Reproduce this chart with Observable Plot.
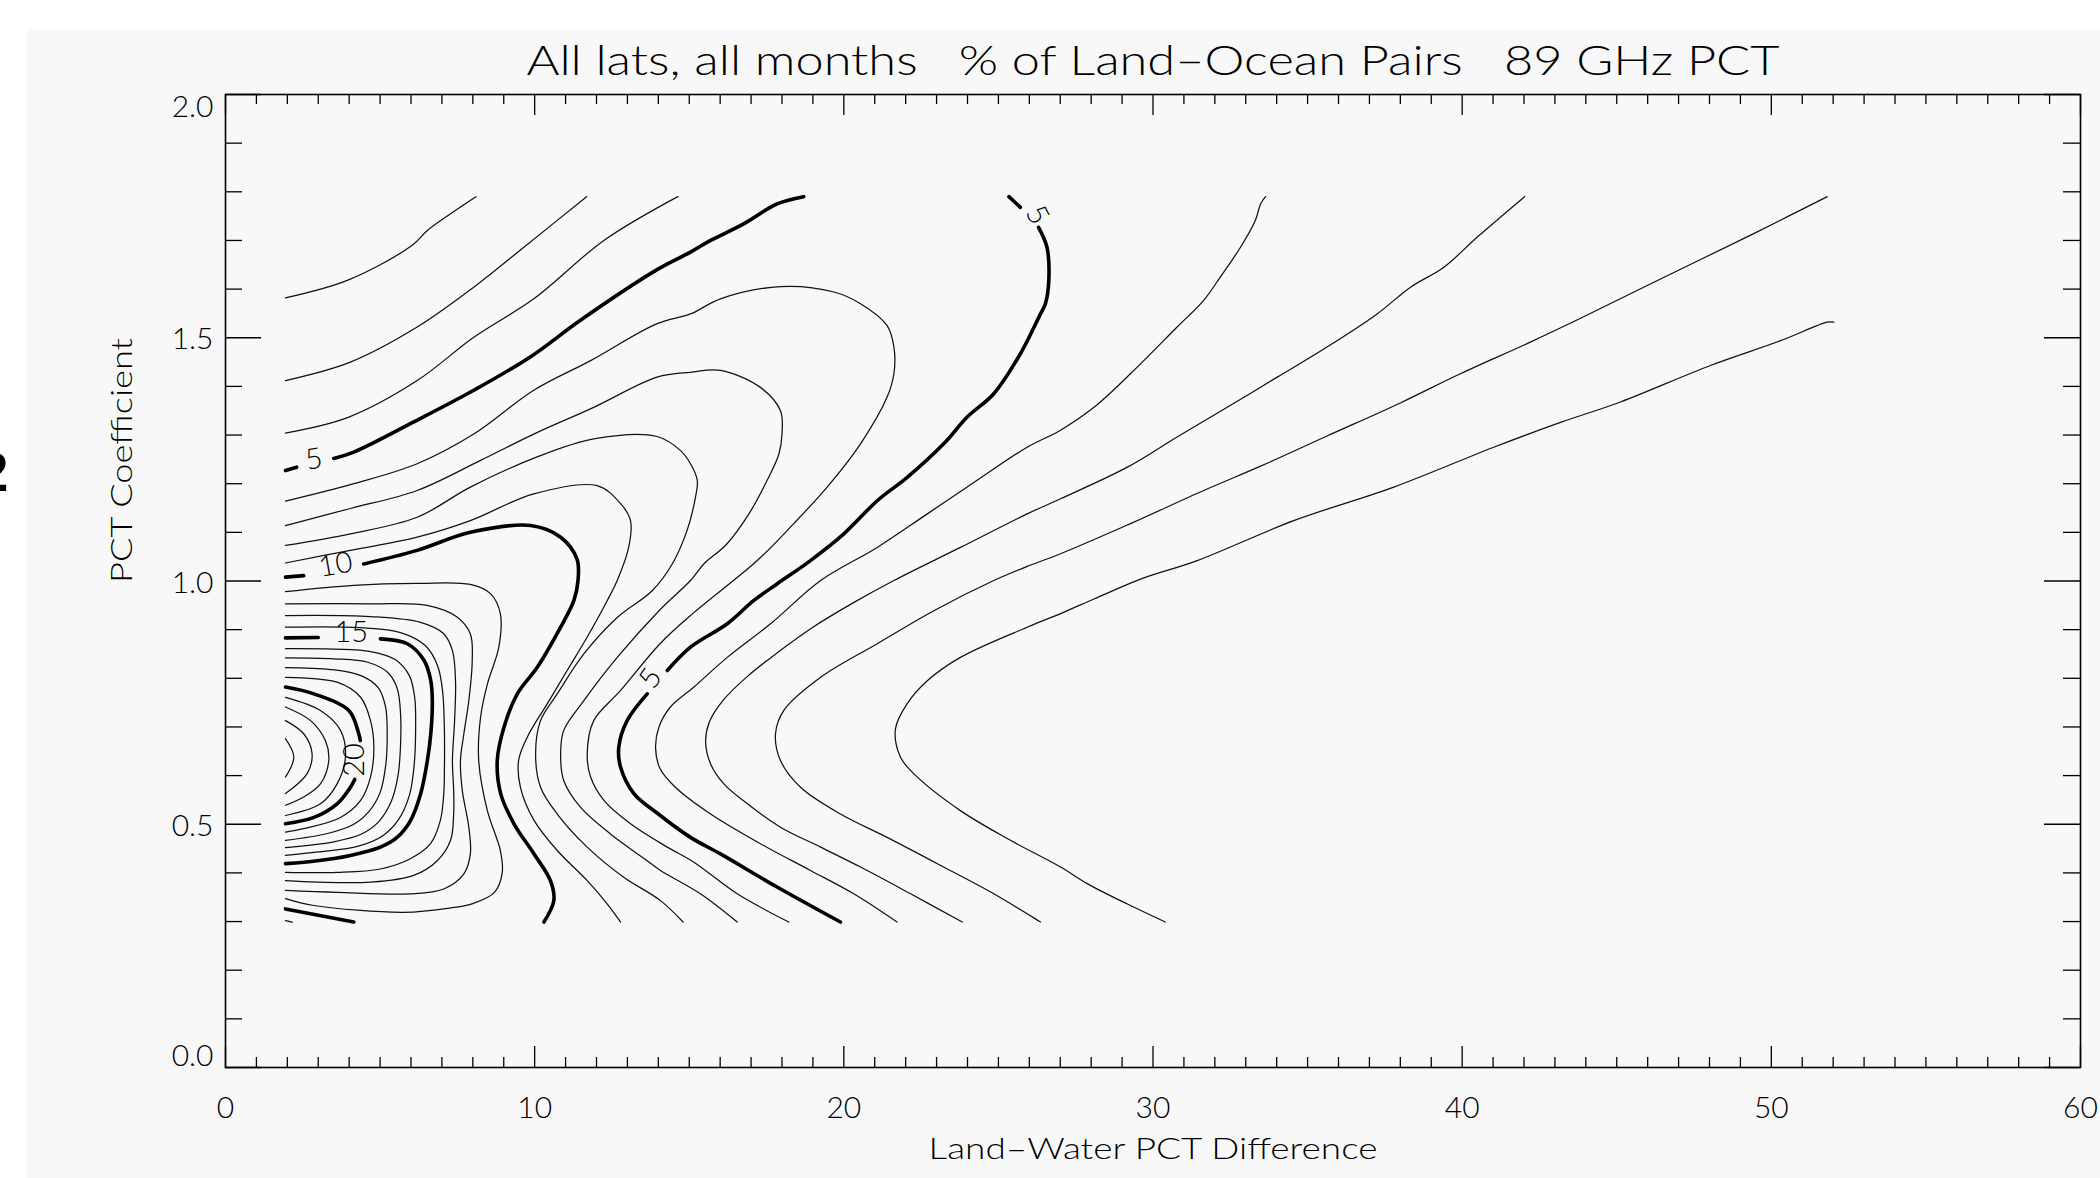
<!DOCTYPE html>
<html>
<head>
<meta charset="utf-8">
<script src="https://cdn.jsdelivr.net/npm/d3@7"></script>
<script src="https://cdn.jsdelivr.net/npm/@observablehq/plot@0.6"></script>
<style>
  html, body { margin: 0; padding: 0; background: #ffffff; }
  #chart svg { display: block; }
</style>
</head>
<body>
<div id="chart"></div>
<script>
// ---- Axis ticks ----
const xTickLabels = [0, 10, 20, 30, 40, 50, 60];
const yTickLabels = [0.0, 0.5, 1.0, 1.5, 2.0];

// ---- Contour paths, [PCT difference, PCT coefficient], level in % ----
// upper-left family (open along the left data edge)
const lvl2Upper = [[1.94,1.582],[3.98,1.619],[6.04,1.690],[6.52,1.720],[7.28,1.755],[8.10,1.790]];
const lvl3Upper = [[1.94,1.412],[4.04,1.450],[6.20,1.522],[8.03,1.604],[9.65,1.686],[11.68,1.790]];
const lvl4Upper = [[1.94,1.304],[3.99,1.337],[6.20,1.412],[8.03,1.501],[9.97,1.580],[12.24,1.700],[14.63,1.790]];
const lvl5UpperA = [[1.94,1.227],[2.30,1.234]];
const lvl5UpperB = [[3.50,1.252],[4.15,1.265],[6.09,1.327],[8.03,1.392],[9.87,1.461],[11.48,1.536],[13.96,1.640],[15.04,1.676],[15.69,1.700],[16.76,1.734],[17.84,1.775],[18.70,1.790]];

// nested lobes between the two 5% contours
const lvl6 = [[1.94,1.164],[4.15,1.200],[6.20,1.241],[8.03,1.302],[9.97,1.392],[11.81,1.453],[13.96,1.529],[15.04,1.549],[16.01,1.580],[17.95,1.605],[19.68,1.594],[20.54,1.570],[21.40,1.525],[21.62,1.481],[21.62,1.426],[21.40,1.378],[20.54,1.282],[19.46,1.193],[18.38,1.118],[17.20,1.042],[15.15,0.935],[14.07,0.872],[12.78,0.775],[11.91,0.713],[11.70,0.645],[11.81,0.597],[12.24,0.549],[13.10,0.501],[14.29,0.453],[15.15,0.422],[16.55,0.357],[18.22,0.299]];
const lvl7 = [[1.94,1.114],[4.04,1.149],[6.20,1.186],[8.25,1.248],[9.97,1.302],[11.91,1.357],[13.96,1.419],[15.04,1.429],[16.01,1.433],[17.30,1.398],[17.95,1.350],[18.00,1.302],[17.90,1.261],[17.52,1.207],[16.93,1.138],[16.20,1.075],[15.47,1.035],[15.04,1.001],[14.07,0.942],[12.67,0.843],[11.59,0.754],[10.94,0.693],[10.84,0.645],[10.94,0.590],[11.48,0.535],[12.45,0.480],[13.64,0.425],[14.07,0.405],[15.36,0.357],[16.55,0.299]];
const lvl8 = [[1.94,1.073],[4.04,1.097],[6.20,1.131],[7.92,1.193],[10.08,1.255],[11.91,1.292],[13.96,1.297],[14.72,1.268],[15.04,1.241],[15.26,1.207],[15.20,1.172],[14.93,1.104],[14.45,1.035],[13.80,0.980],[12.67,0.925],[11.59,0.850],[10.73,0.768],[10.19,0.713],[10.03,0.645],[10.19,0.576],[10.73,0.521],[11.70,0.453],[12.88,0.391],[14.07,0.343],[14.80,0.299]];
const lvl9 = [[1.94,1.037],[4.04,1.063],[6.20,1.090],[7.92,1.124],[9.97,1.179],[12.02,1.196],[12.78,1.159],[13.10,1.124],[13.04,1.069],[12.67,1.001],[12.35,0.960],[11.70,0.885],[11.05,0.816],[10.41,0.748],[9.76,0.679],[9.48,0.631],[9.54,0.576],[9.98,0.508],[10.73,0.446],[11.70,0.384],[12.35,0.336],[12.78,0.299]];
const lvl9Corner = [[1.94,0.302],[2.16,0.299]];
const lvl10A = [[1.94,1.008],[2.53,1.011]];
const lvl10B = [[4.47,1.035],[6.20,1.063],[7.92,1.100],[9.87,1.114],[10.84,1.090],[11.37,1.045],[11.40,1.000],[11.27,0.960],[10.84,0.905],[10.09,0.823],[9.44,0.768],[9.01,0.700],[8.79,0.631],[8.90,0.563],[9.33,0.501],[9.98,0.439],[10.51,0.384],[10.62,0.343],[10.30,0.299]];
const lvl10Corner = [[1.94,0.326],[4.15,0.299]];
const lvl11 = [[1.94,0.978],[4.15,0.991],[6.20,0.995],[7.92,0.993],[8.57,0.974],[8.89,0.933],[8.84,0.864],[8.47,0.788],[8.25,0.720],[8.19,0.631],[8.47,0.528],[8.89,0.446],[8.95,0.400],[8.70,0.360],[8.00,0.337],[7.28,0.328],[5.77,0.319],[2.86,0.333],[1.94,0.347]];
const lvl12 = [[1.94,0.953],[4.69,0.953],[6.52,0.950],[7.49,0.926],[7.92,0.891],[7.98,0.836],[7.87,0.754],[7.71,0.686],[7.60,0.631],[7.66,0.569],[7.87,0.494],[7.92,0.439],[7.71,0.398],[7.06,0.367],[5.98,0.357],[3.61,0.360],[1.94,0.364]];
const lvl13 = [[1.94,0.929],[4.69,0.927],[6.31,0.915],[7.05,0.892],[7.34,0.857],[7.44,0.795],[7.41,0.713],[7.34,0.631],[7.38,0.569],[7.38,0.521],[7.28,0.467],[6.85,0.425],[6.09,0.395],[4.69,0.381],[2.97,0.381],[1.94,0.384]];
const lvl14 = [[1.94,0.905],[4.37,0.904],[5.66,0.894],[6.47,0.867],[6.86,0.826],[7.02,0.775],[7.08,0.693],[7.08,0.610],[7.06,0.563],[6.95,0.508],[6.63,0.460],[5.98,0.429],[5.01,0.408],[3.61,0.401],[1.94,0.401]];
const lvl15A = [[1.94,0.883],[3.00,0.884]];
const lvl15B = [[5.01,0.881],[5.88,0.871],[6.42,0.837],[6.64,0.795],[6.69,0.754],[6.64,0.686],[6.53,0.631],[6.31,0.562],[5.98,0.507],[5.55,0.473],[5.01,0.453],[4.04,0.436],[2.97,0.425],[1.94,0.419]];
const lvl16 = [[1.94,0.861],[3.50,0.860],[4.70,0.855],[5.50,0.838],[5.95,0.805],[6.12,0.760],[6.15,0.700],[6.10,0.620],[5.95,0.560],[5.60,0.510],[5.10,0.477],[4.30,0.455],[3.00,0.443],[1.94,0.436]];
const lvl17 = [[1.94,0.842],[3.50,0.840],[4.60,0.833],[5.25,0.812],[5.55,0.780],[5.66,0.730],[5.66,0.660],[5.58,0.600],[5.35,0.545],[4.95,0.505],[4.40,0.480],[3.50,0.464],[1.94,0.452]];
const lvl18 = [[1.94,0.822],[3.40,0.818],[4.40,0.805],[4.95,0.780],[5.18,0.740],[5.23,0.680],[5.18,0.620],[5.00,0.565],[4.65,0.527],[4.15,0.500],[3.30,0.481],[1.94,0.467]];
const lvl19 = [[1.94,0.802],[3.61,0.792],[4.37,0.761],[4.69,0.713],[4.80,0.658],[4.69,0.597],[4.37,0.549],[3.72,0.514],[2.53,0.491],[1.94,0.484]];
const lvl20A = [[1.94,0.782],[2.86,0.768],[3.99,0.734],[4.31,0.686],[4.36,0.672]];
const lvl20B = [[4.18,0.592],[4.04,0.576],[3.61,0.542],[2.86,0.514],[1.94,0.501]];
const lvl21 = [[1.94,0.761],[3.07,0.734],[3.72,0.693],[3.88,0.638],[3.61,0.583],[3.07,0.542],[1.94,0.518]];
const lvl22 = [[1.94,0.741],[2.75,0.713],[3.23,0.672],[3.34,0.631],[3.07,0.583],[2.53,0.556],[1.94,0.539]];
const lvl23 = [[1.94,0.713],[2.53,0.686],[2.80,0.645],[2.64,0.604],[1.94,0.563]];
const lvl24 = [[1.94,0.676],[2.21,0.638],[1.94,0.597]];

// right-hand family (opening toward large differences)
const lvl5RightA = [[25.34,1.790],[25.71,1.768]];
const lvl5RightB = [[26.30,1.727],[26.57,1.686],[26.63,1.618],[26.52,1.570],[26.36,1.549],[25.71,1.467],[24.85,1.385],[23.99,1.337],[23.23,1.282],[22.05,1.213],[21.08,1.165],[20.00,1.097],[18.92,1.042],[17.84,0.994],[17.09,0.960],[16.23,0.912],[15.04,0.864],[14.29,0.816]];
const lvl5RightC = [[13.64,0.768],[12.99,0.713],[12.72,0.658],[12.78,0.617],[13.21,0.563],[14.00,0.521],[15.04,0.473],[16.01,0.439],[17.84,0.371],[19.89,0.299]];
const lvl4Right = [[33.64,1.790],[33.48,1.775],[33.31,1.741],[32.83,1.686],[32.18,1.625],[31.64,1.577],[30.78,1.522],[29.27,1.426],[28.09,1.357],[27.01,1.310],[25.93,1.275],[24.31,1.207],[22.70,1.138],[21.08,1.069],[19.25,1.001],[17.63,0.912],[16.23,0.843],[15.15,0.782],[14.39,0.741],[14.02,0.700],[13.91,0.658],[14.05,0.615],[14.55,0.576],[15.69,0.521],[17.30,0.460],[18.92,0.405],[20.32,0.357],[21.72,0.299]];
const lvl3Right = [[42.02,1.790],[40.49,1.707],[39.41,1.645],[38.33,1.604],[37.25,1.549],[35.63,1.481],[34.02,1.419],[32.40,1.357],[30.78,1.296],[29.17,1.234],[27.01,1.169],[25.93,1.138],[23.77,1.069],[21.62,1.001],[20.30,0.955],[19.00,0.905],[17.90,0.855],[16.90,0.805],[16.10,0.755],[15.65,0.710],[15.53,0.669],[15.69,0.624],[16.12,0.583],[16.88,0.542],[17.95,0.494],[19.25,0.453],[20.54,0.412],[22.16,0.357],[23.83,0.299]];
const lvl2Right = [[51.81,1.790],[50.62,1.752],[49.43,1.714],[46.20,1.614],[43.83,1.540],[42.10,1.488],[39.94,1.426],[38.00,1.366],[35.63,1.298],[33.48,1.236],[31.64,1.186],[29.17,1.115],[27.01,1.056],[25.93,1.030],[24.85,1.001],[22.91,0.939],[21.08,0.871],[19.25,0.802],[18.06,0.734],[17.79,0.686],[17.95,0.631],[18.60,0.576],[19.89,0.521],[21.40,0.473],[23.23,0.412],[24.85,0.357],[26.36,0.299]];
const lvl1Right = [[52.02,1.532],[51.81,1.532],[50.30,1.494],[48.03,1.443],[45.12,1.368],[43.18,1.326],[41.02,1.275],[37.79,1.193],[34.55,1.124],[31.43,1.042],[29.60,1.004],[28.09,0.963],[27.01,0.933],[25.93,0.905],[23.77,0.843],[22.70,0.795],[22.05,0.748],[21.67,0.696],[21.83,0.638],[22.26,0.604],[23.77,0.528],[25.39,0.467],[27.01,0.412],[27.87,0.378],[29.17,0.336],[30.40,0.299]];

// ---- In-line contour labels ----
const labelText  = ["5", "10", "15", "20", "5", "5"];
const labelX     = [2.86, 3.56, 4.07, 4.17, 13.75, 26.25];
const labelY     = [1.250, 1.033, 0.893, 0.632, 0.800, 1.752];
const labelAngle = [-10, -10, 0, -90, -55, 62];

// ---- Assemble the path table ----
const paths = [
  [2, lvl2Upper], [3, lvl3Upper], [4, lvl4Upper], [5, lvl5UpperA], [5, lvl5UpperB],
  [6, lvl6], [7, lvl7], [8, lvl8], [9, lvl9], [9, lvl9Corner],
  [10, lvl10A], [10, lvl10B], [10, lvl10Corner],
  [11, lvl11], [12, lvl12], [13, lvl13], [14, lvl14], [15, lvl15A], [15, lvl15B],
  [16, lvl16], [17, lvl17], [18, lvl18], [19, lvl19], [20, lvl20A], [20, lvl20B],
  [21, lvl21], [22, lvl22], [23, lvl23], [24, lvl24],
  [5, lvl5RightA], [5, lvl5RightB], [5, lvl5RightC],
  [4, lvl4Right], [3, lvl3Right], [2, lvl2Right], [1, lvl1Right]
];
const rows = paths.flatMap(([level, pts], id) => pts.map(([x, y]) => ({x, y, level, id})));
const thinRows = rows.filter(d => d.level % 5 !== 0);
const thickRows = rows.filter(d => d.level % 5 === 0);
const labels = labelText.map((t, i) => ({t, x: labelX[i], y: labelY[i], a: labelAngle[i]}));

// ---- Layout ----
const W = 2100, H = 1178;
const mT = 94, mR = 20, mB = 111, mL = 225;
const plotW = W - mL - mR, plotH = H - mT - mB;
const font = "Lato, 'Liberation Sans', sans-serif";
const txt = {fontWeight: 300, fill: "#000", lineAnchor: "middle"};

const xMinor = d3.range(0, 61).filter(v => v % 10 !== 0);
const yMinor = d3.range(1, 20).filter(v => v % 5 !== 0).map(v => v / 10);
const yMid = yTickLabels.filter(v => v > 0 && v < 2);

const chart = Plot.plot({
  width: W, height: H,
  marginTop: mT, marginRight: mR, marginBottom: mB, marginLeft: mL,
  x: {domain: [0, 60], axis: null},
  y: {domain: [0, 2], axis: null},
  style: {background: "#ffffff", fontFamily: font},
  marks: [
    // grey panel behind the whole figure
    Plot.frame({fill: "#f8f8f8", stroke: null, insetLeft: -199, insetTop: -65, insetRight: -mR, insetBottom: -mB}),
    // contours
    Plot.line(thinRows, {x: "x", y: "y", z: "id", stroke: "#111", strokeWidth: 1.25, curve: "catmull-rom"}),
    Plot.line(thickRows, {x: "x", y: "y", z: "id", stroke: "#000", strokeWidth: 3.6, curve: "catmull-rom"}),
    Plot.text(labels, {x: "x", y: "y", text: "t", rotate: "a", fontSize: 29, ...txt}),
    // inward ticks on all four sides
    Plot.ruleX(xMinor, {x: d => d, insetTop: plotH - 10, stroke: "#000", strokeWidth: 1.3}),
    Plot.ruleX(xMinor, {x: d => d, insetBottom: plotH - 10, stroke: "#000", strokeWidth: 1.3}),
    Plot.ruleX(xTickLabels, {x: d => d, insetTop: plotH - 21, stroke: "#000", strokeWidth: 1.3}),
    Plot.ruleX(xTickLabels, {x: d => d, insetBottom: plotH - 21, stroke: "#000", strokeWidth: 1.3}),
    Plot.ruleY(yMinor, {y: d => d, insetRight: plotW - 17, stroke: "#000", strokeWidth: 1.3}),
    Plot.ruleY(yMinor, {y: d => d, insetLeft: plotW - 17, stroke: "#000", strokeWidth: 1.3}),
    Plot.ruleY(yTickLabels, {y: d => d, insetRight: plotW - 36, stroke: "#000", strokeWidth: 1.3}),
    Plot.ruleY(yTickLabels, {y: d => d, insetLeft: plotW - 36, stroke: "#000", strokeWidth: 1.3}),
    Plot.frame({stroke: "#000", strokeWidth: 1.6}),
    // tick labels
    Plot.text(xTickLabels, {x: d => d, frameAnchor: "bottom", dy: 41, text: d => String(d), fontSize: 30, ...txt}),
    Plot.text(yMid, {y: d => d, frameAnchor: "left", dx: -12, dy: 2, textAnchor: "end", text: d => d.toFixed(1), fontSize: 30, ...txt}),
    Plot.text(yTickLabels.filter(v => v === 2), {y: d => d, frameAnchor: "left", dx: -12, dy: 13, textAnchor: "end", text: d => d.toFixed(1), fontSize: 30, ...txt}),
    Plot.text(yTickLabels.filter(v => v === 0), {y: d => d, frameAnchor: "left", dx: -12, dy: -11, textAnchor: "end", text: d => d.toFixed(1), fontSize: 30, ...txt}),
    // axis titles and heading
    Plot.text(["Land\u2013Water PCT Difference"], {frameAnchor: "bottom", dy: 82, text: d => d, fontSize: 30, ...txt}),
    Plot.text(["PCT Coefficient"], {frameAnchor: "left", dx: -103, dy: 2, rotate: -90, text: d => d, fontSize: 30, ...txt}),
    Plot.text(["All lats, all months\u00a0\u00a0\u00a0% of Land\u2013Ocean Pairs\u00a0\u00a0\u00a089 GHz PCT"], {frameAnchor: "top", dy: -33, text: d => d, fontSize: 41, ...txt}),
    // panel number partly cut off at the left edge
    Plot.text(["2"], {frameAnchor: "left", dx: 8 - mL, dy: -108, textAnchor: "end", text: d => d, fontSize: 56, fontWeight: 900, fontFamily: "'Liberation Sans', sans-serif", fill: "#000"})
  ]
});

// fit the long texts to their measured extents
d3.select(chart).selectAll("text").each(function() {
  const t = this.textContent;
  if (t.startsWith("All lats")) { this.setAttribute("textLength", 1253); this.setAttribute("lengthAdjust", "spacingAndGlyphs"); }
  if (t.startsWith("Land")) { this.setAttribute("textLength", 449); this.setAttribute("lengthAdjust", "spacingAndGlyphs"); }
  if (t.startsWith("PCT Coef")) { this.setAttribute("textLength", 245); this.setAttribute("lengthAdjust", "spacingAndGlyphs"); }
});

document.getElementById("chart").appendChild(chart);
</script>
</body>
</html>
